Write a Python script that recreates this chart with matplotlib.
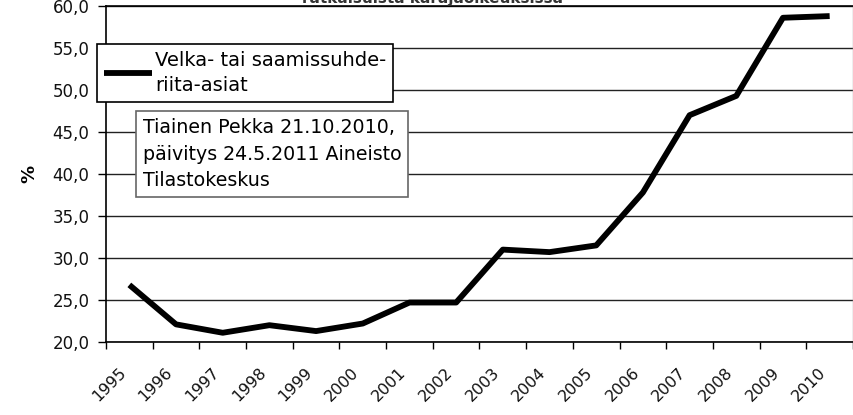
import matplotlib
matplotlib.use("Agg")
import matplotlib.pyplot as plt
import matplotlib.transforms as mtransforms
from matplotlib.ticker import FuncFormatter, FixedLocator

years = ["1995", "1996", "1997", "1998", "1999", "2000", "2001", "2002",
         "2003", "2004", "2005", "2006", "2007", "2008", "2009", "2010"]
values = [26.8, 22.1, 21.1, 22.0, 21.3, 22.2, 24.7, 24.7,
          31.0, 30.7, 31.5, 37.8, 47.0, 49.3, 58.6, 58.8]
series_name = "Velka- tai saamissuhde-\nriita-asiat"
note = "Tiainen Pekka 21.10.2010,\npäivitys 24.5.2011 Aineisto\nTilastokeskus"
title = "ratkaisuista käräjäoikeuksissa"
yticks = [20, 25, 30, 35, 40, 45, 50, 55, 60]

plt.rcParams['font.family'] = ['DejaVu Sans']

fig = plt.figure(figsize=(8.54, 4.15), dpi=100)
ax = fig.add_axes([106/854, 73/415, 747/854, 336/415])

x = list(range(len(years)))
line, = ax.plot(x, values, color='black', lw=4.2, solid_joinstyle='round',
                solid_capstyle='butt', label=series_name, zorder=3)

ax.set_xlim(-0.5, len(years) - 0.5)
ax.set_ylim(20, 60)
ax.set_yticks(yticks)
ax.yaxis.set_major_formatter(FuncFormatter(lambda v, p: f"{v:.1f}".replace('.', ',')))
ax.grid(axis='y', color='#222222', lw=1.0)
ax.set_axisbelow(True)

ax.set_xticks(x)
ax.set_xticklabels(years, rotation=45, ha='right', va='center', rotation_mode='anchor')
ax.xaxis.set_minor_locator(FixedLocator([i - 0.5 for i in range(len(years) + 1)]))
ax.tick_params(axis='x', which='major', length=0, pad=20, labelsize=11.5, labelcolor='#111111')
ax.tick_params(axis='x', which='minor', length=5, width=1, direction='out', color='black')
ax.tick_params(axis='y', which='major', length=6, width=1, direction='out', pad=6,
               labelsize=12, labelcolor='#111111')
shift = mtransforms.ScaledTranslation(-6/100, 0, fig.dpi_scale_trans)
for lbl in ax.get_xticklabels():
    lbl.set_transform(lbl.get_transform() + shift)

for s in ['left', 'bottom', 'top']:
    ax.spines[s].set_color('black')
    ax.spines[s].set_linewidth(1.2)
ax.spines['right'].set_color('#aaaaaa')
ax.spines['right'].set_linewidth(1.0)

ax.set_ylabel('%', fontsize=13, fontweight='bold', labelpad=10)

leg = ax.legend(handles=[line], loc='upper left', bbox_to_anchor=(-9/747, 1 - 38/336),
                frameon=True, fancybox=False, fontsize=14, handlelength=2.5,
                handletextpad=0.15, borderpad=0.35, borderaxespad=0)
leg.get_texts()[0].set_linespacing(1.4)
leg.get_frame().set_edgecolor('black')
leg.get_frame().set_linewidth(1.2)
leg.get_frame().set_facecolor('white')
leg.get_frame().set_alpha(1)

ax.text((143 - 106) / 747, 1 - (119 - 7) / 336, note, transform=ax.transAxes,
        ha='left', va='top', fontsize=13.7, linespacing=1.5, zorder=5,
        bbox=dict(boxstyle='square,pad=0.35', facecolor='white', edgecolor='#666666', lw=1.2))

fig.text(433/854, 1 - 3/415, title, ha='center', va='baseline', fontsize=11,
         fontweight='bold', color='#333333')

fig.savefig('out.png', dpi=100)
